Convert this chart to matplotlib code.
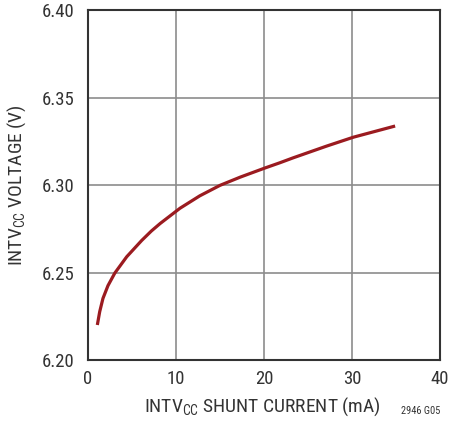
import numpy as np
import matplotlib
matplotlib.use("Agg")
from matplotlib import pyplot as plt
from matplotlib import font_manager

# prefer a condensed sans face if one is installed
installed = {f.name for f in font_manager.fontManager.ttflist}
family = 'DejaVu Sans'
for name in ['Liberation Sans Narrow', 'Roboto Condensed', 'DejaVu Sans Condensed', 'Liberation Sans']:
    if name in installed:
        family = name
        break
plt.rcParams['font.family'] = [family, 'DejaVu Sans']
plt.rcParams['mathtext.fontset'] = 'custom'
plt.rcParams['mathtext.rm'] = family

# shunt current (mA) vs INTVcc voltage (V)
current = [1.06, 1.33, 1.70, 2.27, 3.05, 4.4, 6.1, 7.2, 8.2, 10.45,
           12.7, 15.0, 17.3, 20.1, 21.8, 23.3, 27.1, 30.15, 34.9]
voltage = [6.2200, 6.2276, 6.2352, 6.2425, 6.2497, 6.2590, 6.2683, 6.2737,
           6.2780, 6.2867, 6.2938, 6.2998, 6.3045, 6.3097, 6.3127, 6.3155,
           6.3222, 6.3273, 6.3337]
xticks = [0, 10, 20, 30, 40]
yticks = [6.20, 6.25, 6.30, 6.35, 6.40]

fig = plt.figure(figsize=(4.52, 4.23), dpi=100)
ax = fig.add_axes([88/452, 63/423, 352/452, 350/423])

ax.plot(current, voltage, color='#9b1b20', lw=2.3, solid_capstyle='butt',
        solid_joinstyle='round')

ax.set_xlim(0, 40)
ax.set_ylim(6.20, 6.40)
ax.set_xticks(xticks)
ax.set_yticks(yticks)
ax.set_xticklabels([str(t) for t in xticks])
ax.set_yticklabels(['%.2f' % t for t in yticks])
ax.grid(True, color='#8c8c8c', lw=1.2)
ax.tick_params(length=0, labelsize=13.5, colors='#333333')
ax.tick_params(axis='y', pad=10)
ax.tick_params(axis='x', pad=7)
for s in ax.spines.values():
    s.set_color('#333333')
    s.set_linewidth(1.5)

ax.set_xlabel(r'INTV$_{\rm CC}$ SHUNT CURRENT (mA)', fontsize=14, color='#333333')
ax.set_ylabel(r'INTV$_{\rm CC}$ VOLTAGE (V)', fontsize=14, color='#333333')
ax.xaxis.set_label_coords(0.495, -0.1)
ax.yaxis.set_label_coords(-0.17, 0.5)
fig.text(440/452, 7/423, '2946 G05', fontsize=7.5, color='#333333', ha='right', va='bottom')

fig.savefig('out.png', dpi=100)
